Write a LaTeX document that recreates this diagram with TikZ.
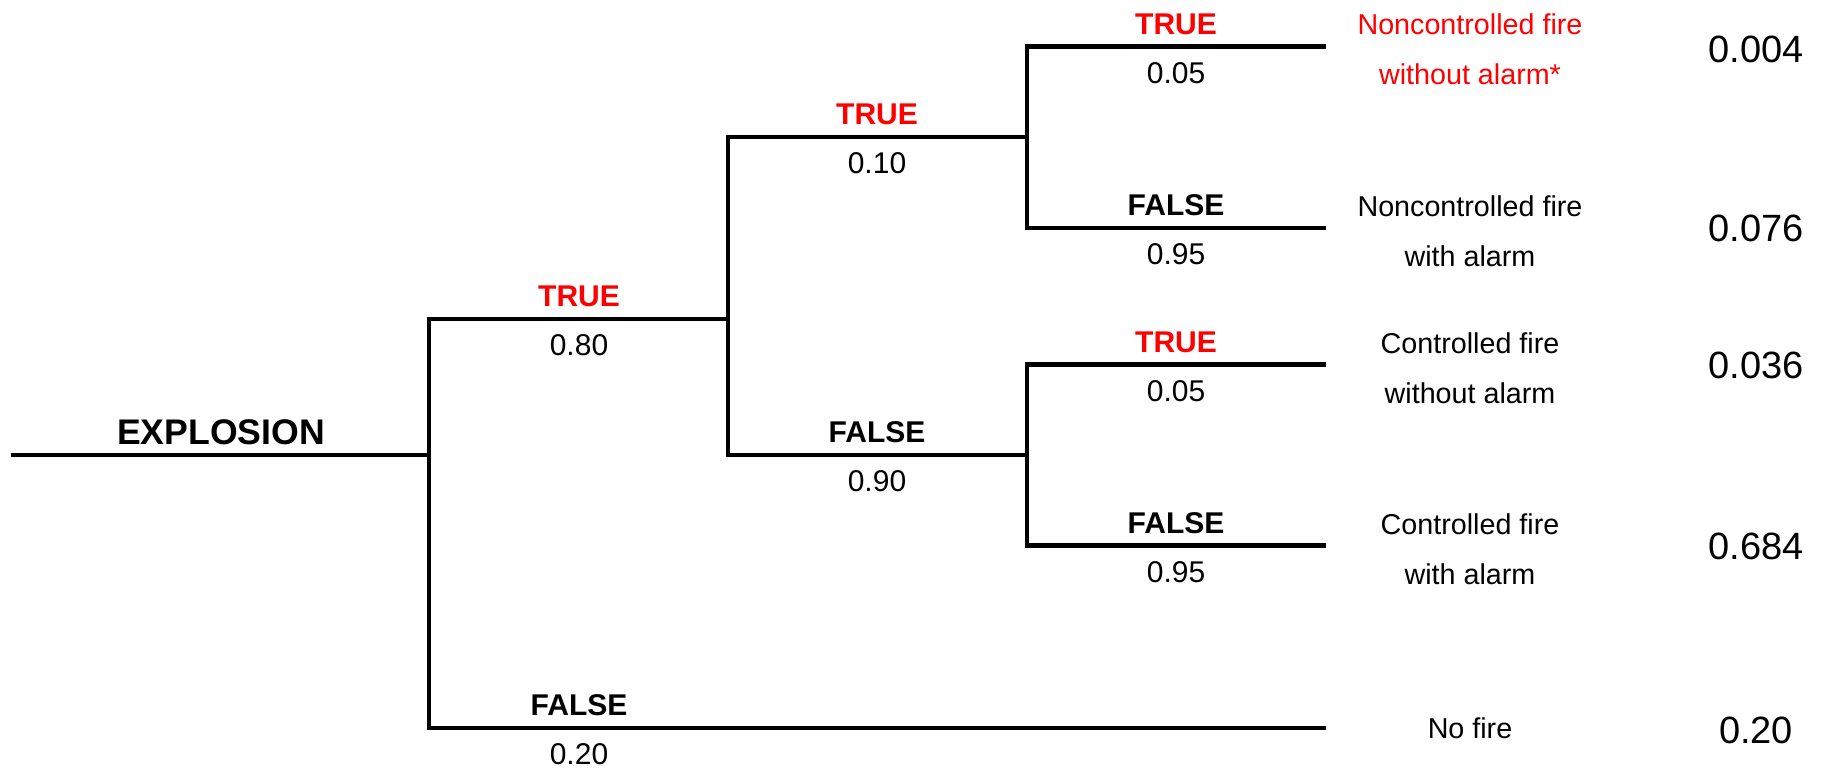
\documentclass[tikz,border=0pt]{standalone}
\usepackage{fontspec}
\setmainfont{Liberation Sans}
\begin{document}
\begin{tikzpicture}[x=1pt,y=-1pt,
  branch/.style={line width=4.5pt,black},
  lbl/.style={anchor=base,inner sep=0pt,font=\fontsize{30}{36}\selectfont},
  lbltrue/.style={lbl,font=\fontsize{30}{36}\selectfont\bfseries,text=red},
  lblfalse/.style={lbl,font=\fontsize{30}{36}\selectfont\bfseries},
  outcome/.style={anchor=base,inner sep=0pt,font=\fontsize{28.7}{34}\selectfont},
  prob/.style={anchor=base,inner sep=0pt,font=\fontsize{38}{44}\selectfont}]
\useasboundingbox (0,0) rectangle (1822,772);

% tree coordinates
\coordinate (start) at (11,455);
\coordinate (j1) at (429,455);
\coordinate (j1t) at (429,319);
\coordinate (j1b) at (429,728);
\coordinate (j2) at (728,319);
\coordinate (j2t) at (728,137);
\coordinate (j2b) at (728,455);
\coordinate (j3) at (1027,137);
\coordinate (j3t) at (1027,46.5);
\coordinate (j3b) at (1027,228);
\coordinate (j4) at (1027,455);
\coordinate (j4t) at (1027,364.5);
\coordinate (j4b) at (1027,545.5);
\coordinate (e1) at (1326,46.5);
\coordinate (e2) at (1326,228);
\coordinate (e3) at (1326,364.5);
\coordinate (e4) at (1326,545.5);
\coordinate (e5) at (1326,728);

% branches
\draw[branch] (start) -- (j1);
\draw[branch] (j2) -- (j1t) -- (j1b) -- (e5);
\draw[branch] (j3) -- (j2t) -- (j2b) -- (j4);
\draw[branch] (e1) -- (j3t) -- (j3b) -- (e2);
\draw[branch] (e3) -- (j4t) -- (j4b) -- (e4);

% root label
\node[anchor=base,inner sep=0pt,font=\fontsize{35.6}{42}\selectfont\bfseries] (root) at (221,444) {EXPLOSION};

% branch labels
\node[lbltrue]  (t1)  at (579,306.5) {TRUE};
\node[lbl]      (p1)  at (579,355.5) {0.80};
\node[lblfalse] (f1)  at (579,715.5) {FALSE};
\node[lbl]      (q1)  at (579,764.5) {0.20};

\node[lbltrue]  (t2)  at (877,124.5) {TRUE};
\node[lbl]      (p2)  at (877,173.5) {0.10};
\node[lblfalse] (f2)  at (877,442.5) {FALSE};
\node[lbl]      (q2)  at (877,491.5) {0.90};

\node[lbltrue]  (t3)  at (1176,34) {TRUE};
\node[lbl]      (p3)  at (1176,83) {0.05};
\node[lblfalse] (f3)  at (1176,215.5) {FALSE};
\node[lbl]      (q3)  at (1176,264.5) {0.95};

\node[lbltrue]  (t4)  at (1176,352) {TRUE};
\node[lbl]      (p4)  at (1176,401) {0.05};
\node[lblfalse] (f4)  at (1176,533) {FALSE};
\node[lbl]      (q4)  at (1176,582) {0.95};

% outcomes
\node[outcome,text=red] (o1a) at (1470,34.5) {Noncontrolled fire};
\node[outcome,text=red] (o1b) at (1470,84.5) {without alarm*};
\node[outcome] (o2a) at (1470,216) {Noncontrolled fire};
\node[outcome] (o2b) at (1470,266) {with alarm};
\node[outcome] (o3a) at (1470,353.5) {Controlled fire};
\node[outcome] (o3b) at (1470,403.5) {without alarm};
\node[outcome] (o4a) at (1470,534) {Controlled fire};
\node[outcome] (o4b) at (1470,584) {with alarm};
\node[outcome] (o5)  at (1470,738.5) {No fire};

% outcome probabilities
\node[prob] (v1) at (1756,62) {0.004};
\node[prob] (v2) at (1756,241.5) {0.076};
\node[prob] (v3) at (1756,378.5) {0.036};
\node[prob] (v4) at (1756,559.5) {0.684};
\node[prob] (v5) at (1756,743.5) {0.20};
\end{tikzpicture}
\end{document}
